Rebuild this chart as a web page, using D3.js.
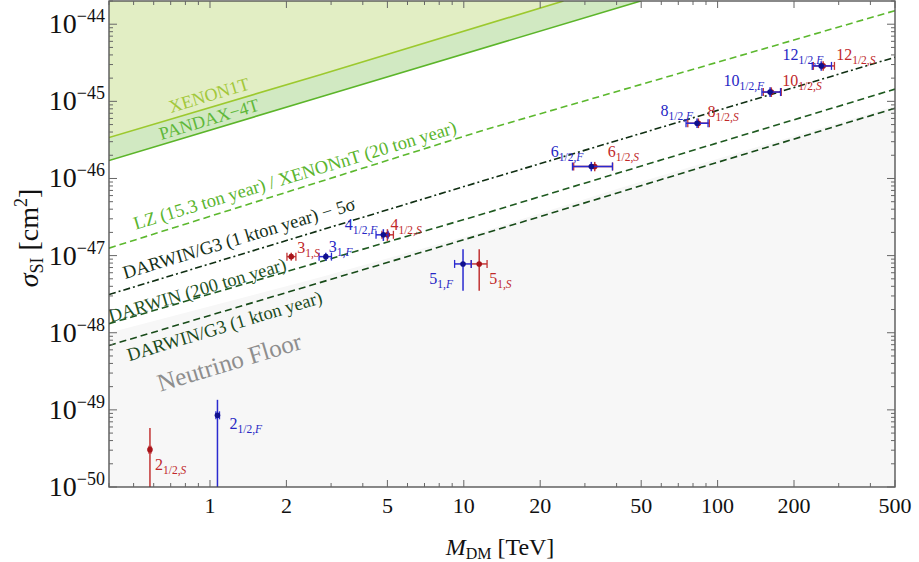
<!DOCTYPE html>
<html>
<head>
<meta charset="utf-8">
<script src="https://cdn.jsdelivr.net/npm/d3@7"></script>
<style>
  body { margin: 0; background: #fff; }
  svg { display: block; }
  text { font-family: "Liberation Serif", "Times New Roman", serif; }
</style>
</head>
<body>
<div id="chart"></div>
<script>
// --- data (M in TeV, sigma in cm^2) ---
var massTicks = [1, 2, 5, 10, 20, 50, 100, 200, 500];
var sigmaTicks = [1e-50, 1e-49, 1e-48, 1e-47, 1e-46, 1e-45, 1e-44];

// excluded regions (upper edges)
var xenon1t = [[0.4, 3.4e-46], [2.7, 2.2e-45], [24.7, 2.0e-44]];
var pandax4t = [[0.4, 1.71e-46], [2.7, 1.13e-45], [49.8, 2.0e-44]];
// projections
var lzXenonNT = [[0.4, 1.25e-47], [11.6, 4.1e-46], [500, 1.5e-44]];
var darwin5sigma = [[0.4, 3.13e-48], [11.6, 9.1e-47], [500, 3.73e-45]];
var darwin200 = [[0.4, 1.31e-48], [11.6, 3.38e-47], [500, 1.44e-45]];
var darwin1kton = [[0.4, 6.84e-49], [11.6, 1.86e-47], [500, 8.15e-46]];
var neutrinoFloor = [[0.4, 1.0e-48], [2.7, 5.2e-48], [11.6, 2.0e-47], [41.6, 7.6e-47], [500, 8.7e-46]];

// multiplets: [n, sub, M, Mlo, Mhi, sigma, sigmaLo, sigmaHi]
var fermionPts = [
  ["2", "1/2", 1.07, 1.055, 1.09, 8.5e-50, 1e-51, 1.35e-49],
  ["3", "1", 2.86, 2.69, 3.01, 9.7e-48, 8.6e-48, 1.09e-47],
  ["4", "1/2", 4.82, 4.51, 5.03, 1.86e-47, 1.55e-47, 2.2e-47],
  ["5", "1", 9.93, 9.2, 10.7, 7.8e-48, 3.5e-48, 1.21e-47],
  ["6", "1/2", 31.8, 26.8, 38.5, 1.43e-46, 1.24e-46, 1.64e-46],
  ["8", "1/2", 83.0, 75.1, 91.7, 5.2e-46, 4.5e-46, 6.0e-46],
  ["10", "1/2", 161, 149.5, 177, 1.32e-45, 1.14e-45, 1.52e-45],
  ["12", "1/2", 256, 236, 281, 2.88e-45, 2.5e-45, 3.3e-45]
];
var scalarPts = [
  ["2", "1/2", 0.58, 0.575, 0.585, 3.05e-50, 1e-51, 5.8e-50],
  ["3", "1", 2.09, 2.01, 2.18, 9.7e-48, 8.6e-48, 1.09e-47],
  ["4", "1/2", 5.0, 4.76, 5.28, 1.86e-47, 1.55e-47, 2.2e-47],
  ["5", "1", 11.5, 10.7, 12.35, 7.8e-48, 3.5e-48, 1.21e-47],
  ["6", "1/2", 32.8, 27.1, 38.6, 1.43e-46, 1.24e-46, 1.64e-46],
  ["8", "1/2", 84.0, 76.3, 92.8, 5.2e-46, 4.5e-46, 6.0e-46],
  ["10", "1/2", 162.8, 151.4, 178.2, 1.32e-45, 1.14e-45, 1.52e-45],
  ["12", "1/2", 260.5, 238.5, 288.7, 2.88e-45, 2.5e-45, 3.3e-45]
];

// label placement (anchor, dx, dy in px from the point)
var fermionLabelPos = [["start", 12, 14], ["start", 3, -5], ["end", -6, -5], ["end", -10, 20],
  ["end", -8, -9], ["end", -4, -7], ["end", -6, -6], ["end", 2, -6]];
var scalarLabelPos = [["start", 5, 20], ["start", 6, -4], ["start", 3, -5], ["start", 10, 20],
  ["start", 13, -9], ["start", 9, -6], ["start", 11, -6], ["start", 13, -6]];

var W = 919, H = 562;
var pLeft = 109, pRight = 895, pTop = 1, pBottom = 487;

var svg = d3.select("#chart").append("svg")
  .attr("width", W).attr("height", H);

var x = d3.scaleLog().domain([0.4, 500]).range([pLeft, pRight]);
var y = d3.scaleLog().domain([1e-50, 2e-44]).range([pBottom, pTop]);

svg.append("clipPath").attr("id", "plotclip")
  .append("rect").attr("x", pLeft).attr("y", pTop)
  .attr("width", pRight - pLeft).attr("height", pBottom - pTop);

var plot = svg.append("g").attr("clip-path", "url(#plotclip)");

var line = d3.line().x(function (d) { return x(d[0]); }).y(function (d) { return y(d[1]); });
var xMin = x.domain()[0], xMax = x.domain()[1];
var yMin = y.domain()[0], yMax = y.domain()[1];

//*** filled regions ***//
plot.append("path")
  .attr("d", line(neutrinoFloor.concat([[xMax, yMin], [xMin, yMin]])) + "Z")
  .attr("fill", "#f7f7f7");

plot.append("path")
  .attr("d", line(xenon1t.concat([[xMin, yMax]])) + "Z")
  .attr("fill", "#e2eec4");

plot.append("path")
  .attr("d", line(pandax4t.concat(xenon1t.slice().reverse())) + "Z")
  .attr("fill", "#d1e9c2");

//*** limit / projection lines ***//
plot.append("path").attr("d", line(xenon1t)).attr("fill", "none")
  .attr("stroke", "#9cc92e").attr("stroke-width", 1.6);
plot.append("path").attr("d", line(pandax4t)).attr("fill", "none")
  .attr("stroke", "#5cb52a").attr("stroke-width", 1.6);
plot.append("path").attr("d", line(lzXenonNT)).attr("fill", "none")
  .attr("stroke", "#5cb82e").attr("stroke-width", 1.6).attr("stroke-dasharray", "7,4");
plot.append("path").attr("d", line(darwin5sigma)).attr("fill", "none")
  .attr("stroke", "#0f2e12").attr("stroke-width", 1.6).attr("stroke-dasharray", "7,3,2,3");
plot.append("path").attr("d", line(darwin200)).attr("fill", "none")
  .attr("stroke", "#1f5a20").attr("stroke-width", 1.6).attr("stroke-dasharray", "7,4");
plot.append("path").attr("d", line(darwin1kton)).attr("fill", "none")
  .attr("stroke", "#174a18").attr("stroke-width", 1.6).attr("stroke-dasharray", "7,4");

//*** rotated labels along the lines ***//
function lineAngle(pts) {
  var a = pts[0], b = pts[pts.length - 1];
  return Math.atan2(y(b[1]) - y(a[1]), x(b[0]) - x(a[0])) * 180 / Math.PI;
}
function slantLabel(txt, at, pts, color, size) {
  var px = x(at[0]), py = y(at[1]);
  plot.append("text")
    .attr("transform", "translate(" + px + "," + py + ") rotate(" + lineAngle(pts) + ")")
    .attr("text-anchor", "middle")
    .attr("dy", "0.35em")
    .attr("fill", color)
    .style("font-size", size + "px")
    .text(txt);
}
slantLabel("XENON1T", [0.99, 1.21e-45], xenon1t, "#a2c83a", 18);
slantLabel("PANDAX\u22124T", [0.99, 5.9e-46], pandax4t, "#5fb83a", 18);
slantLabel("LZ (15.3 ton year) / XENONnT (20 ton year)", [2.16, 1.11e-46], lzXenonNT, "#5ab52e", 18.5);
slantLabel("DARWIN/G3 (1 kton year) \u2212 5\u03c3", [1.30, 1.70e-47], darwin5sigma, "#143018", 18.5);
slantLabel("DARWIN (200 ton year)", [0.89, 3.6e-48], darwin200, "#1e521f", 18.5);
slantLabel("DARWIN/G3 (1 kton year)", [1.14, 1.23e-48], darwin1kton, "#1b4a1c", 18.5);
slantLabel("Neutrino Floor", [1.19, 4.2e-49], darwin1kton, "#8e8e8e", 25);

//*** multiplet points ***//
function drawSeries(rows, pos, barColor, dotColor, textColor, tag) {
  var g = plot.append("g");
  rows.forEach(function (r, i) {
    var cx = x(r[2]), cy = y(r[5]);
    g.append("line").attr("x1", cx).attr("x2", cx)
      .attr("y1", y(r[7])).attr("y2", y(r[6]))
      .attr("stroke", barColor).attr("stroke-width", 1.5);
    g.append("line").attr("x1", x(r[3])).attr("x2", x(r[4]))
      .attr("y1", cy).attr("y2", cy)
      .attr("stroke", barColor).attr("stroke-width", 1.5);
    [r[3], r[4]].forEach(function (m) {
      g.append("line").attr("x1", x(m)).attr("x2", x(m))
        .attr("y1", cy - 4).attr("y2", cy + 4)
        .attr("stroke", barColor).attr("stroke-width", 1.3);
    });
    g.append("circle").attr("cx", cx).attr("cy", cy).attr("r", 2.8).attr("fill", dotColor);

    var p = pos[i];
    var t = svg.append("text")
      .attr("x", cx + p[1]).attr("y", cy + p[2])
      .attr("text-anchor", p[0])
      .attr("fill", textColor)
      .style("font-size", "16px");
    t.append("tspan").text(r[0]);
    t.append("tspan").attr("dy", 4).style("font-size", "11.5px").text(r[1] + ",");
    t.append("tspan").style("font-size", "11.5px").style("font-style", "italic").text(tag);
  });
}
drawSeries(scalarPts, scalarLabelPos, "#c23434", "#a8141a", "#c0282a", "S");
drawSeries(fermionPts, fermionLabelPos, "#2a2ad0", "#10108e", "#2626c4", "F");

//*** frame and ticks ***//
svg.append("rect").attr("x", pLeft).attr("y", pTop)
  .attr("width", pRight - pLeft).attr("height", pBottom - pTop)
  .attr("fill", "none").attr("stroke", "#4a4a4a").attr("stroke-width", 1.3);

var xMinor = [];
[0.1, 1, 10, 100].forEach(function (d) {
  for (var k = 1; k <= 9; k++) {
    var v = +(k * d).toPrecision(3);
    if (v >= xMin && v <= xMax && massTicks.indexOf(v) < 0) xMinor.push(v);
  }
});
var yMinor = [];
sigmaTicks.forEach(function (d) {
  for (var k = 2; k <= 9; k++) {
    var v = k * d;
    if (v <= yMax) yMinor.push(v);
  }
});

var tk = svg.append("g").attr("stroke", "#666").attr("stroke-width", 1);
massTicks.forEach(function (v) {
  tk.append("line").attr("x1", x(v)).attr("x2", x(v)).attr("y1", pBottom).attr("y2", pBottom - 7);
  tk.append("line").attr("x1", x(v)).attr("x2", x(v)).attr("y1", pTop).attr("y2", pTop + 7);
});
xMinor.forEach(function (v) {
  tk.append("line").attr("x1", x(v)).attr("x2", x(v)).attr("y1", pBottom).attr("y2", pBottom - 4);
  tk.append("line").attr("x1", x(v)).attr("x2", x(v)).attr("y1", pTop).attr("y2", pTop + 4);
});
sigmaTicks.forEach(function (v) {
  tk.append("line").attr("x1", pLeft).attr("x2", pLeft + 8).attr("y1", y(v)).attr("y2", y(v));
  tk.append("line").attr("x1", pRight).attr("x2", pRight - 8).attr("y1", y(v)).attr("y2", y(v));
});
yMinor.forEach(function (v) {
  tk.append("line").attr("x1", pLeft).attr("x2", pLeft + 4).attr("y1", y(v)).attr("y2", y(v));
  tk.append("line").attr("x1", pRight).attr("x2", pRight - 4).attr("y1", y(v)).attr("y2", y(v));
});

// tick labels
svg.append("g").selectAll("text").data(massTicks).enter().append("text")
  .attr("x", function (d) { return x(d); })
  .attr("y", pBottom + 26)
  .attr("text-anchor", "middle")
  .attr("fill", "#111")
  .style("font-size", "22px")
  .text(function (d) { return d; });

sigmaTicks.forEach(function (v) {
  var t = svg.append("text")
    .attr("x", pLeft - 4).attr("y", y(v) + 9)
    .attr("text-anchor", "end")
    .attr("fill", "#111")
    .style("font-size", "28px");
  t.append("tspan").text("10");
  t.append("tspan").attr("dy", -11).style("font-size", "18px")
    .text("\u2212" + Math.round(-Math.log10(v)));
});

// axis titles
var xt = svg.append("text").attr("x", 500).attr("y", 555)
  .attr("text-anchor", "middle").attr("fill", "#111").style("font-size", "24px");
xt.append("tspan").style("font-style", "italic").text("M");
xt.append("tspan").attr("dy", 4).style("font-size", "16px").text("DM");
xt.append("tspan").attr("dy", -4).text(" [TeV]");

var yt = svg.append("text").attr("transform", "translate(38,238) rotate(-90)")
  .attr("text-anchor", "middle").attr("fill", "#111").style("font-size", "28px");
yt.append("tspan").style("font-style", "italic").text("\u03c3");
yt.append("tspan").attr("dy", 5).style("font-size", "18px").text("SI");
yt.append("tspan").attr("dy", -5).text(" [cm");
yt.append("tspan").attr("dy", -11).style("font-size", "18px").text("2");
yt.append("tspan").attr("dy", 11).text("]");
</script>
</body>
</html>
